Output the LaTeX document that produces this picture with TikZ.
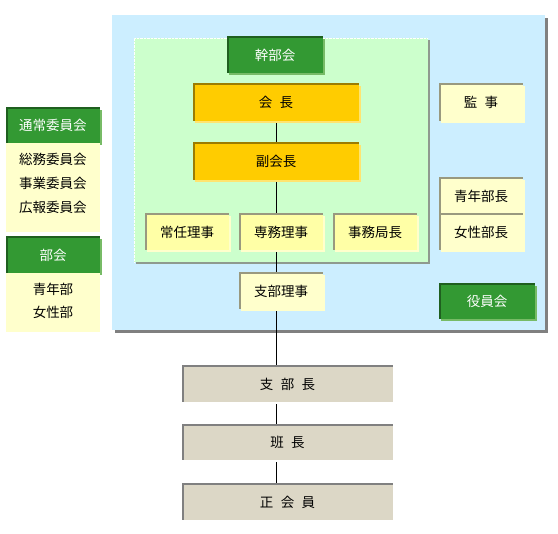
\documentclass[tikz,border=0pt]{standalone}
\usepackage{fontspec}
\setmainfont{Noto Sans CJK JP}
\usetikzlibrary{shadows, backgrounds}
\pgfdeclarelayer{panel}
\pgfdeclarelayer{link}
\pgfsetlayers{panel,link,main}
\definecolor{cpanel}{HTML}{CCEEFF}
\definecolor{cboard}{HTML}{CCFFCC}
\definecolor{cgreen}{HTML}{339933}
\definecolor{cgreenedge}{HTML}{1F5F1F}
\definecolor{cgreenlite}{HTML}{77BB66}
\definecolor{cgold}{HTML}{FFCC00}
\definecolor{cgoldedge}{HTML}{9C7C00}
\definecolor{cgoldlite}{HTML}{FFE470}
\definecolor{cpale}{HTML}{FFFFCC}
\definecolor{clemon}{HTML}{FFFFA6}
\definecolor{cpaleedge}{HTML}{99997F}
\definecolor{cstone}{HTML}{DCD7C6}
\definecolor{cgrey}{HTML}{808080}
\newcommand{\gap}{\hspace{0.55em}}
\tikzset{
  every picture/.style={x=1pt, y=-1pt, font=\fontsize{13.5}{16}\selectfont, line width=1pt},
  tile/.style args={#1/#2/#3}{fill=#1, inner sep=0pt,
    drop shadow={shadow xshift=2pt, shadow yshift=-2pt, fill=#3, opacity=1},
    path picture={\draw[#2, line width=3pt]
      (path picture bounding box.south west) -- (path picture bounding box.north west)
      -- (path picture bounding box.north east);}},
  head/.style={tile=cgreen/cgreenedge/cgreenlite, text=white},
  chief/.style={tile=cgold/cgoldedge/cgoldlite, minimum width=166, minimum height=37},
  post/.style={tile=cpale/cpaleedge/cpale, minimum width=84, minimum height=36},
  stone/.style={tile=cstone/cgrey/white, minimum width=211, minimum height=36},
  sheet/.style={fill=cpale, inner sep=0pt, minimum width=94},
  link/.style={draw=black, line width=1pt},
}

\begin{document}
\begin{tikzpicture}
  \useasboundingbox (0,0) rectangle (558,534);
  \begin{pgfonlayer}{panel}
    \fill[cgrey] (115,18) rectangle (548,333);
    \fill[cpanel] (112,15) rectangle (545,330);
    \fill[cgrey!80!cboard] (136,40) rectangle (430,264);
    \fill[cboard] (134,38) rectangle (428,262);
    \draw[white, densely dotted] (134,262) -- (134,38) -- (428,38);
  \end{pgfonlayer}

  % executive board
  \node[head, minimum width=96, minimum height=36] (kanbu) at (275,55) {幹部会};
  \node[chief] (kaicho) at (276,102.5) {会\gap 長};
  \node[chief] (fuku) at (276,161.5) {副会長};
  \node[post, fill=clemon] (jonin) at (187,232) {常任理事};
  \node[post, fill=clemon] (senmu) at (281,232) {専務理事};
  \node[post, fill=clemon] (jimu) at (375,232) {事務局長};
  \node[post] (shiburiji) at (281,291) {支部理事};

  % officers
  \node[post, minimum height=37] (kanji) at (481,102.5) {監\gap 事};
  \node[post] (seinen) at (481,196) {青年部長};
  \node[post] (josei) at (481,232) {女性部長};
  \node[head, minimum width=96, minimum height=35] (yakuin) at (487,301.5) {役員会};

  % committees
  \node[head, minimum width=94, minimum height=35] (iinkai) at (53,125.5) {通常委員会};
  \node[sheet, minimum height=89] (iinlist) at (53,187.5) {};
  \node[align=center, font=\fontsize{13.5}{24}\selectfont] (iinitems) at (53,183)
    {総務委員会\\事業委員会\\広報委員会};
  \node[head, minimum width=94, minimum height=36] (bukai) at (53,255) {部会};
  \node[sheet, minimum height=59] (bulist) at (53,302.5) {};
  \node[align=center, font=\fontsize{13.5}{23}\selectfont] (buitems) at (53,300.5)
    {青年部\\女性部};

  % branches
  \node[stone] (shibucho) at (287.5,384) {支\gap 部\gap 長};
  \node[stone, minimum height=35] (hancho) at (287.5,442.5) {班\gap 長};
  \node[stone] (seikai) at (287.5,502) {正\gap 会\gap 員};

  \begin{pgfonlayer}{link}
    \draw[link] (kaicho) -- (fuku);
    \draw[link] (fuku.south) -- (fuku.south |- shibucho.north);
    \draw[link] (fuku.south |- shibucho.south) -- (fuku.south |- hancho.north);
    \draw[link] (fuku.south |- hancho.south) -- (fuku.south |- seikai.north);
  \end{pgfonlayer}
\end{tikzpicture}
\end{document}
